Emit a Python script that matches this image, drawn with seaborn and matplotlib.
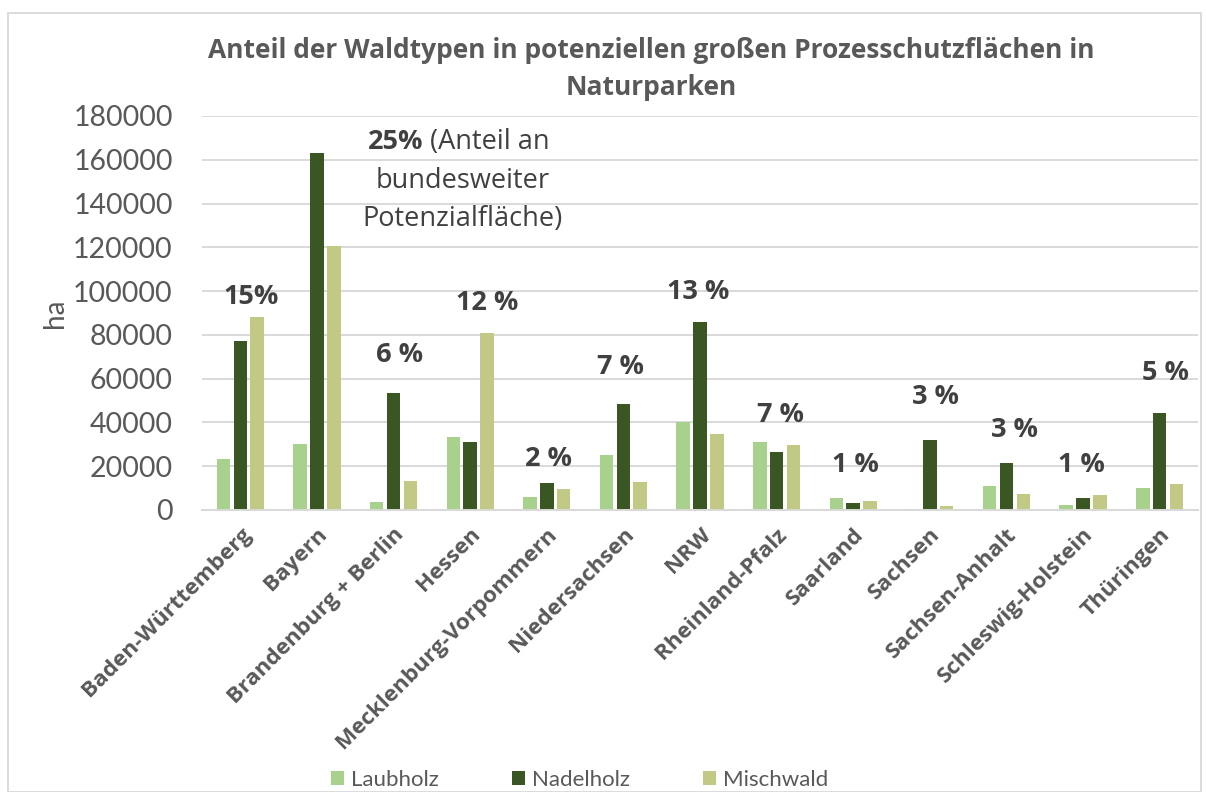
import matplotlib
matplotlib.use("Agg")
import matplotlib.pyplot as plt
import seaborn as sns
import pandas as pd
from matplotlib.patches import Rectangle

# ---- data ----
laender = ["Baden-Württemberg", "Bayern", "Brandenburg + Berlin", "Hessen",
           "Mecklenburg-Vorpommern", "Niedersachsen", "NRW", "Rheinland-Pfalz",
           "Saarland", "Sachsen", "Sachsen-Anhalt", "Schleswig-Holstein", "Thüringen"]
laubholz = [23400, 30100, 3500, 33300, 5900, 25100, 40300, 31000, 5600, 500, 10800, 2300, 10000]
nadelholz = [77300, 162900, 53600, 31000, 12300, 48500, 86000, 26300, 3200, 32100, 21500, 5600, 44200]
mischwald = [88300, 120500, 13200, 81000, 9700, 12600, 34600, 29500, 4100, 1800, 7300, 7000, 11700]
series = ["Laubholz", "Nadelholz", "Mischwald"]
anteile = ["15%", "25%", "6 %", "12 %", "2 %", "7 %", "13 %", "7 %", "1 %", "3 %", "3 %", "1 %", "5 %"]

# ---- layout / style ----
colors = ["#A9D18E", "#3A5623", "#C2C984"]
label_pos = [(0.14, 97400), (2.42, 168200), (2.08, 70800), (3.22, 94500), (4.02, 23300),
             (4.96, 65300), (5.98, 99500), (7.05, 43400), (8.03, 20500), (9.08, 51600),
             (10.1, 36500), (10.98, 20500), (12.08, 62500)]

df = pd.DataFrame({
    "Land": laender * 3,
    "ha": laubholz + nadelholz + mischwald,
    "Typ": [s for s in series for _ in laender],
})

sns.set_theme(style="white")
plt.rcParams["font.family"] = ["Open Sans", "DejaVu Sans"]

W, H = 1206, 792
fig = plt.figure(figsize=(W / 100, H / 100), dpi=100)
ax = fig.add_axes([202 / W, 1 - 510 / H, (1198 - 202) / W, (510 - 116) / H])

sns.barplot(data=df, x="Land", y="ha", hue="Typ", hue_order=series, palette=colors,
            order=laender, width=0.66, gap=0.2, errorbar=None, linewidth=0, ax=ax,
            saturation=1)

ax.set_ylim(0, 180000)
ax.set_yticks(range(0, 180001, 20000))
ax.set_xlim(-0.5, len(laender) - 0.5)
ax.yaxis.grid(True, color="#D9D9D9", linewidth=1.4)
ax.set_axisbelow(True)
for s in ["left", "right", "top"]:
    ax.spines[s].set_visible(False)
ax.spines["bottom"].set_color("#D9D9D9")
ax.spines["bottom"].set_linewidth(1.4)

ax.set_xlabel("")
ax.set_ylabel("ha", fontsize=20, color="#595959", labelpad=4,
              fontfamily=["Lato", "DejaVu Sans"])
ax.tick_params(axis="y", length=0, pad=21, labelsize=20.5, labelcolor="#595959")
ax.tick_params(axis="x", length=0, pad=10, labelsize=16.2, labelcolor="#595959")
for lab in ax.get_yticklabels():
    lab.set_fontfamily(["Lato", "DejaVu Sans"])
for lab in ax.get_xticklabels():
    lab.set_rotation(45)
    lab.set_ha("right")
    lab.set_va("top")
    lab.set_rotation_mode("anchor")
    lab.set_fontweight("bold")

# percentage annotations
ann_fs = 19.5
for i, (txt, (x, y)) in enumerate(zip(anteile, label_pos)):
    if i == 1:
        ax.annotate(txt, (x, y), xytext=(-2, 0), textcoords="offset points",
                    ha="right", va="center", fontsize=ann_fs, fontweight="bold",
                    color="#404040")
        ax.annotate("(Anteil an", (x, y), xytext=(3, 0), textcoords="offset points",
                    ha="left", va="center", fontsize=ann_fs, color="#404040")
        ax.text(2.9, y - 17700, "bundesweiter", ha="center", va="center",
                fontsize=ann_fs, color="#404040")
        ax.text(2.9, y - 35200, "Potenzialfläche)", ha="center", va="center",
                fontsize=ann_fs, color="#404040")
    else:
        ax.text(x, y, txt, ha="center", va="center", fontsize=ann_fs,
                fontweight="bold", color="#404040")

# title
fig.text(651 / W, 1 - 69 / H,
         "Anteil der Waldtypen in potenziellen großen Prozesschutzflächen in\nNaturparken",
         ha="center", va="center", fontsize=19, fontweight="bold", color="#595959",
         linespacing=1.45)

# legend
sns.move_legend(ax, "center", bbox_to_anchor=(0.379, -0.685),
                ncol=3, frameon=False, title=None,
                prop={"family": ["Lato", "DejaVu Sans"], "size": 16},
                handlelength=0.6, handleheight=0.6, handletextpad=0.3,
                columnspacing=3.3, labelcolor="#595959")

# chart border
fig.patches.append(Rectangle((8 / W, 0), (1201 - 8) / W, 1 - 13 / H,
                             transform=fig.transFigure, fill=False,
                             edgecolor="#D9D9D9", linewidth=1.3))

fig.savefig("out.png", dpi=100)
